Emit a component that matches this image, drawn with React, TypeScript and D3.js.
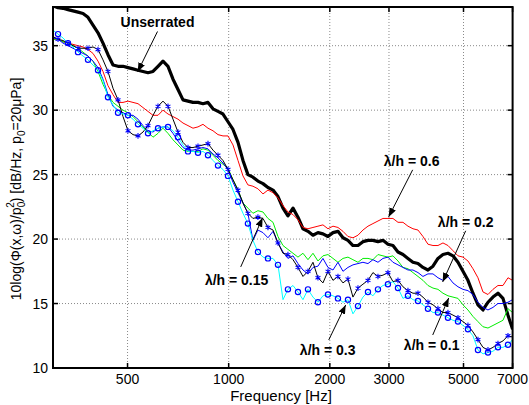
import React from "react";
import * as d3 from "d3";

const FREQ = [300,310.5,321.3,332.5,344.1,356.1,368.5,381.3,394.6,408.4,422.6,437.3,452.6,468.4,484.7,501.6,519.1,537.2,555.9,575.3,595.3,616.1,637.5,659.8,682.8,706.6,731.2,756.7,783.1,810.4,838.6,867.8,898.1,929.4,961.8,995.3,1030,1066,1103,1141,1181,1222,1265,1309,1355,1402,1451,1501,1554,1608,1664,1722,1782,1844,1908,1975,2044,2115,2189,2265,2344,2426,2510,2598,2688,2782,2879,2979,3083,3191,3302,3417,3536,3660,3787,3919,4056,4197,4344,4495,4652,4814,4982,5155,5335,5521,5714,5913,6119,6332,6553,6782,7000];

const UNSERRATED = [38.1,37.95,37.9,37.8,37.7,37.6,37.5,37.2,36.6,36.0,
35.2,34.3,33.5,33.4,33.4,33.3,33.2,33.1,33.0,32.9,
33.0,33.4,33.8,33.4,32.4,31.6,30.8,30.7,30.6,30.6,
30.5,30.6,30.1,29.9,29.7,29.1,28.5,27.5,26.1,25.0,
24.8,24.5,24.3,24.0,23.8,23.3,22.4,21.8,22.4,21.7,
20.8,20.6,20.3,20.5,20.4,20.2,20.5,20.6,20.1,19.9,
19.5,19.5,19.8,19.9,19.9,19.8,19.9,19.6,19.5,19.0,
18.8,18.5,18.2,18.1,17.8,17.6,17.9,18.5,18.8,18.9,
18.7,18.2,17.5,16.8,15.8,14.9,14.5,15.1,15.5,15.8,
15.4,14.1,13.0];

const LH_06 = [35.5,35.5,35.3,35.2,35.1,35.0,34.9,34.7,34.4,33.8,
33.0,31.9,31.2,30.6,30.6,30.7,30.6,30.5,30.2,29.9,
29.6,29.6,30.0,29.7,29.5,29.3,29.0,28.8,28.6,28.7,
28.9,28.6,28.4,28.1,28.0,28.0,27.3,26.1,24.9,24.2,
24.1,23.9,23.5,23.8,23.6,23.2,22.6,22.1,21.9,21.5,
20.9,20.8,20.9,21.0,21.1,20.8,21.0,20.9,20.6,20.2,
20.1,20.3,20.7,21.0,21.2,21.4,21.6,21.6,21.6,21.3,
21.3,21.0,20.8,20.7,20.2,19.6,19.5,19.5,19.7,19.5,
19.1,18.7,18.6,18.3,17.7,17.0,15.9,15.7,16.1,16.4,
16.4,17.0,16.8];

const LH_GREEN = [35.5,35.5,35.3,35.2,35.0,34.8,34.5,34.2,33.8,33.0,
32.0,31.2,30.6,30.3,30.0,29.8,29.5,29.1,28.7,28.3,
27.9,28.2,28.6,28.2,27.7,27.3,26.9,26.8,26.8,26.8,
27.0,26.9,26.5,26.1,25.8,25.5,24.6,23.8,22.8,22.4,
22.0,22.2,22.1,21.6,21.3,20.2,19.5,19.2,18.9,18.6,
18.9,18.4,18.9,18.3,18.7,18.8,18.5,18.2,18.5,18.6,
18.4,18.2,18.5,18.5,18.4,18.8,18.7,18.6,18.7,18.3,
17.8,17.7,17.4,17.1,16.8,16.4,16.2,16.1,15.8,15.6,
15.5,15.4,14.9,14.5,14.0,13.6,13.2,13.1,13.3,13.5,
13.7,14.6,14.3];

const LH_02 = [35.6,35.5,35.2,35.0,34.8,34.6,34.4,34.2,33.8,33.3,
32.4,31.2,30.3,30.0,29.8,29.6,29.6,29.3,28.8,28.4,
28.3,28.6,28.7,28.7,28.2,27.6,27.1,26.9,26.9,27.0,
27.1,27.0,26.6,26.3,25.9,25.4,24.4,23.6,22.8,22.0,
19.9,20.7,20.5,20.1,20.6,19.7,19.0,18.5,18.7,18.1,
17.6,17.3,17.8,17.9,18.5,17.8,17.6,18.2,17.5,17.8,
18.0,18.1,18.2,18.1,18.4,18.2,18.5,18.6,18.2,18.0,
17.8,17.6,17.6,17.4,17.1,17.3,17.3,17.0,16.8,17.1,
16.6,16.3,16.1,16.0,15.7,15.1,14.7,14.5,14.7,15.0,
15.0,15.1,15.3];

const LH_STAR = [35.7,35.5,35.4,35.2,35.0,34.8,34.8,34.8,34.9,34.7,
33.9,33.0,31.7,30.8,29.5,28.4,28.1,28.0,28.3,28.8,
29.6,30.3,30.7,30.3,29.3,28.3,27.5,27.1,27.1,27.2,
27.3,27.4,26.9,26.5,26.1,25.4,24.6,23.8,22.8,22.0,
21.6,21.7,21.6,20.9,20.7,19.7,18.9,18.8,18.4,17.8,
17.1,17.5,18.2,17.0,16.6,17.5,16.8,17.1,16.6,16.9,
15.5,16.2,16.5,16.8,17.4,17.1,17.2,17.4,16.7,16.8,
16.3,16.0,15.8,15.8,15.5,15.1,14.9,14.6,14.3,14.3,
14.1,13.9,13.6,13.3,12.8,12.2,11.6,11.4,11.6,11.9,
12.1,12.5,12.4];

const LH_CIRCLE = [36.2,35.9,35.6,35.2,34.9,34.5,34.2,33.9,33.5,33.1,
32.3,31.0,30.4,29.8,29.7,29.6,29.3,28.9,28.6,28.2,
28.4,28.6,28.7,28.7,28.4,27.9,27.3,26.8,26.8,26.7,
26.8,26.5,26.1,25.7,25.4,24.9,23.8,22.9,22.0,21.2,
19.9,19.0,18.6,18.5,18.5,18.0,15.3,16.1,16.4,15.9,
15.3,16.1,15.5,15.1,15.6,15.7,15.6,15.4,15.1,15.3,
14.2,14.8,15.5,15.9,15.6,16.1,16.4,16.5,16.7,16.2,
15.4,15.6,15.3,15.2,14.9,14.6,14.3,14.3,14.1,13.9,
13.7,13.6,13.3,13.0,12.5,11.4,11.1,11.2,11.3,11.6,
11.6,11.8,12.2];

const X_TICKS = [500, 1000, 2000, 3000, 5000, 7000];
const Y_TICKS = [10, 15, 20, 25, 30, 35];

// annotations in data coordinates: label, text (f, dB), arrow from (f, dB) to (f, dB)
const ANNOT_LABELS = ["Unserrated", "\u03bb/h = 0.6", "\u03bb/h = 0.2", "\u03bb/h = 0.15", "\u03bb/h = 0.3", "\u03bb/h = 0.1"];
const ANNOT_TEXT = [[614, 36.86], [3504, 26.07], [5075, 21.34], [1056, 16.83], [1971, 11.40], [4020, 11.79]];
const ANNOT_FROM = [[614, 36.1], [3529, 25.37], [5075, 20.64], [1086, 17.84], [1985, 12.17], [4049, 12.56]];
const ANNOT_TO = [[536, 32.98], [2993, 21.72], [4335, 16.68], [1262, 21.65], [2230, 14.89], [4518, 15.43]];

const W = 529, H = 405;
const L = 53, R = 512.6, T = 7, B = 368;
const FONT = "'Liberation Sans', Arial, Helvetica, sans-serif";

export default function App() {
  const x = d3.scaleLog().domain([300, 7000]).range([L, R]);
  const y = d3.scaleLinear().domain([10, 38]).range([B, T]);
  const lineGen = d3.line<number>().x((_, i) => x(FREQ[i])).y((d) => y(d));
  const markIdx = FREQ.map((_, i) => i).filter((i) => i % 2 === 1);
  const star = d3.symbol().type(d3.symbolAsterisk).size(22)();

  const series = [
    { v: UNSERRATED, c: "#000000", w: 3.2 },
    { v: LH_06, c: "#ff0000", w: 1 },
    { v: LH_GREEN, c: "#00ee00", w: 1 },
    { v: LH_02, c: "#0000ff", w: 1 },
    { v: LH_STAR, c: "#000000", w: 1 },
    { v: LH_CIRCLE, c: "#00ffff", w: 1 },
  ];

  return (
    <svg width={W} height={H} style={{ position: "absolute", left: 0, top: 0, background: "#fff" }} fontFamily={FONT}>
      <defs>
        <clipPath id="plotclip">
          <rect x={L} y={T} width={R - L} height={B - T} />
        </clipPath>
        <marker id="ah" markerUnits="userSpaceOnUse" markerWidth={9} markerHeight={7} refX={9} refY={3.5} orient="auto">
          <path d="M0,0 L9,3.5 L0,7 z" fill="#000" />
        </marker>
      </defs>
      <rect x={0} y={0} width={W} height={H} fill="#fff" />
      {/* grid */}
      {X_TICKS.filter((t) => t < 7000).map((t) => (
        <line key={"gx" + t} x1={x(t)} x2={x(t)} y1={T} y2={B} stroke="#8a8a8a" strokeWidth={1} strokeDasharray="1,2" />
      ))}
      {Y_TICKS.filter((t) => t > 10).map((t) => (
        <line key={"gy" + t} x1={L} x2={R} y1={y(t)} y2={y(t)} stroke="#8a8a8a" strokeWidth={1} strokeDasharray="1,2" />
      ))}
      {/* series */}
      <g clipPath="url(#plotclip)">
        {series.map((s, k) => (
          <path key={k} d={lineGen(s.v) || ""} fill="none" stroke={s.c} strokeWidth={s.w} strokeLinejoin="round" />
        ))}
        {markIdx.map((i) => (
          <path key={"st" + i} d={star || ""} transform={`translate(${x(FREQ[i])},${y(LH_STAR[i])})`} fill="none" stroke="#0000ff" strokeWidth={1.1} />
        ))}
        {markIdx.map((i) => (
          <circle key={"ci" + i} cx={x(FREQ[i])} cy={y(LH_CIRCLE[i])} r={2.6} fill="none" stroke="#0000ff" strokeWidth={1.2} />
        ))}
      </g>
      {/* frame */}
      <rect x={L} y={T} width={R - L} height={B - T} fill="none" stroke="#000" strokeWidth={2} />
      {/* ticks */}
      {X_TICKS.map((t) => (
        <g key={"tx" + t}>
          <line x1={x(t)} x2={x(t)} y1={B} y2={B - 5} stroke="#000" strokeWidth={1.5} />
          <line x1={x(t)} x2={x(t)} y1={T} y2={T + 5} stroke="#000" strokeWidth={1.5} />
          <text x={x(t)} y={384} textAnchor="middle" fontSize={14}>{t}</text>
        </g>
      ))}
      {Y_TICKS.map((t) => (
        <g key={"ty" + t}>
          <line x1={L} x2={L + 5} y1={y(t)} y2={y(t)} stroke="#000" strokeWidth={1.5} />
          <line x1={R} x2={R - 5} y1={y(t)} y2={y(t)} stroke="#000" strokeWidth={1.5} />
          <text x={48} y={y(t) + 5} textAnchor="end" fontSize={14}>{t}</text>
        </g>
      ))}
      {/* axis labels */}
      <text x={281} y={401} textAnchor="middle" fontSize={15}>Frequency [Hz]</text>
      <text transform="translate(21,189) rotate(-90)" textAnchor="middle" fontSize={14}>
        10log(Φ(x,ω)/p
        <tspan fontSize={10} dy={4}>0</tspan>
        <tspan fontSize={10} dx={-6} dy={-11}>2</tspan>
        <tspan dy={7}>) [dB/Hz, p</tspan>
        <tspan fontSize={10} dy={4}>0</tspan>
        <tspan dy={-4}>=20μPa]</tspan>
      </text>
      {/* annotations */}
      {ANNOT_LABELS.map((lab, k) => (
        <g key={"an" + k}>
          <line
            x1={x(ANNOT_FROM[k][0])}
            y1={y(ANNOT_FROM[k][1])}
            x2={x(ANNOT_TO[k][0])}
            y2={y(ANNOT_TO[k][1])}
            stroke="#000"
            strokeWidth={1}
            markerEnd="url(#ah)"
          />
          <text x={x(ANNOT_TEXT[k][0])} y={y(ANNOT_TEXT[k][1]) + 5} textAnchor="middle" fontSize={14} fontWeight="bold">
            {lab}
          </text>
        </g>
      ))}
    </svg>
  );
}
